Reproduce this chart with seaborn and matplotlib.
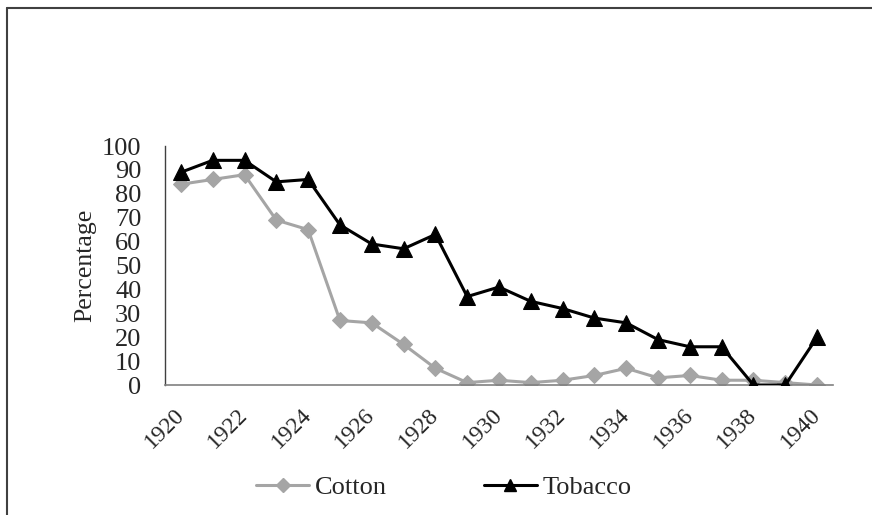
import matplotlib
matplotlib.use('Agg')
import matplotlib.pyplot as plt
import seaborn as sns
import pandas as pd
from matplotlib.lines import Line2D

# data
years = list(range(1920, 1941))
cotton = [84, 86, 88, 69, 65, 27, 26, 17, 7, 1, 2, 1, 2, 4, 7, 3, 4, 2, 2, 1, 0]
tobacco = [89, 94, 94, 85, 86, 67, 59, 57, 63, 37, 41, 35, 32, 28, 26, 19, 16, 16, 0, 0, 20]

df = pd.DataFrame({'year': years, 'Cotton': cotton, 'Tobacco': tobacco})

sns.set_style('white')
plt.rcParams['font.family'] = ['Liberation Serif', 'DejaVu Serif']

fig = plt.figure(figsize=(8.72, 5.15), dpi=100)
ax = fig.add_axes([0.1892, 0.2524, 0.7661, 0.4641])

gray = '#A5A5A5'
sns.lineplot(data=df, x='year', y='Cotton', ax=ax, color=gray, lw=2.2,
             marker='D', markersize=8, markeredgecolor=gray, zorder=2)
sns.lineplot(data=df, x='year', y='Tobacco', ax=ax, color='black', lw=2.2,
             marker='^', markersize=11, markeredgecolor='black', zorder=3)

ax.set_xlim(1919.5, 1940.5)
ax.set_ylim(0, 100)
ax.set_yticks(range(0, 101, 10))
ax.set_xticks(range(1920, 1941, 2))
ax.tick_params(axis='y', labelsize=19, length=0, pad=17)
ax.tick_params(axis='x', labelsize=17, length=0, pad=19)
plt.setp(ax.get_xticklabels(), rotation=45, ha='right', va='center',
         rotation_mode='anchor')
ax.set_xlabel('')
ax.set_ylabel('Percentage', fontsize=18.5, labelpad=4)

sns.despine(ax=ax, top=True, right=True)
ax.spines['left'].set_color('#404040')
ax.spines['bottom'].set_color('#808080')
ax.spines['left'].set_linewidth(1.0)
ax.spines['bottom'].set_linewidth(1.2)

handles = [Line2D([], [], color=gray, lw=2.2, marker='D', markersize=7),
           Line2D([], [], color='black', lw=2.2, marker='^', markersize=9)]
fig.legend(handles, ['Cotton', 'Tobacco'], loc='center', bbox_to_anchor=(0.509, 0.054),
           ncol=2, frameon=False, fontsize=19, handlelength=2.0, handletextpad=0.2,
           columnspacing=3.7)

# chart-area border (left and top edges visible)
fig.add_artist(Line2D([0.0077, 0.0077], [0.0, 0.9845], color='#404040', lw=1.5,
                      transform=fig.transFigure))
fig.add_artist(Line2D([0.0077, 1.0], [0.9845, 0.9845], color='#404040', lw=1.5,
                      transform=fig.transFigure))

fig.savefig('out.png', dpi=100)
